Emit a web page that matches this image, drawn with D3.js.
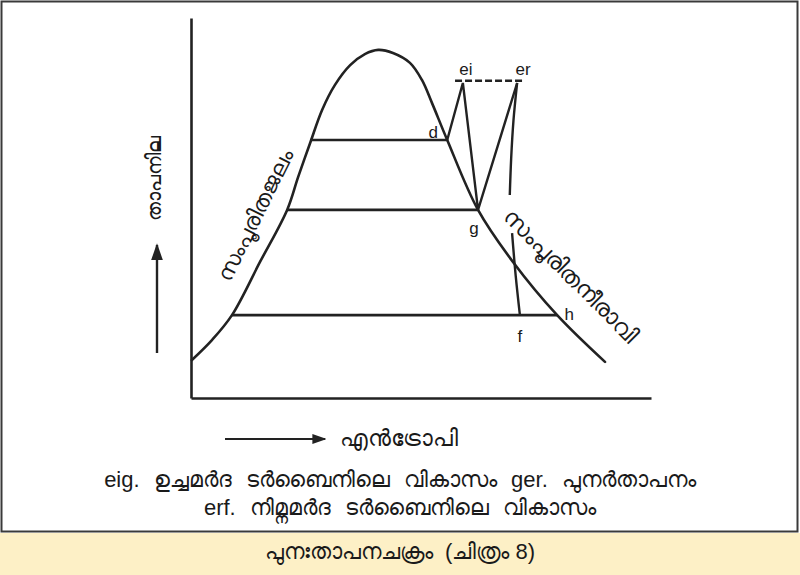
<!DOCTYPE html>
<html><head><meta charset="utf-8">
<script src="https://cdn.jsdelivr.net/npm/d3@7/dist/d3.min.js"></script>
<style>
body{margin:0;background:#fff;}
svg{display:block;}
text{font-family:"Liberation Sans",Arial,"Noto Sans",sans-serif;fill:#1a1a1a;white-space:pre;}
</style></head>
<body>
<svg id="chart" width="800" height="575"></svg>
<script>
// ---- data (entropy s, temperature T) ----
const domeS = [0.02,0.46,0.89,1.50,2.09,2.33,2.59,2.85,3.13,3.46,3.78,4.07,4.39,4.76,5.02,5.24,5.57,6.24,7.00,7.96,9.00];
const domeT = [10.0,15.3,21.8,35.8,49.5,58.2,67.1,75.8,82.4,87.6,90.5,91.6,90.8,88.2,83.7,77.6,67.9,49.5,35.8,21.8,9.5];
const isoLevels = [67.9, 49.5, 21.8];
const isoStartS = [2.59, 2.09, 0.89];
const isoEndS = [5.57, 6.24, 7.96];
const pointNames = ["d","ei","g","er","f","h"];
const pointS = [5.57, 5.91, 6.24, 7.09, 7.15, 7.96];
const pointT = [67.9, 82.9, 49.5, 82.9, 21.8, 21.8];
const cyclePath = ["d","ei","g","er"];
const erfS = [7.09, 7.01, 6.96, 6.93, null, 6.98, 7.06, 7.15];
const erfT = [82.9, 73.0, 63.0, 53.4, null, 43.4, 32.0, 21.8];
const dashS = [5.74, 7.24];
const dashT = 83.5;
const yTitle = "താപനില";
const xTitle = "എൻട്രോപി";
const liquidLabel = "സംപൂരിതജലം";
const vapourLabel = "സംപൂരിതനീരാവി";
const notes = ["eig. ഉച്ചമർദ ടർബൈനിലെ വികാസം ger. പുനർതാപനം", "erf. നിമ്നമർദ ടർബൈനിലെ വികാസം"];
const figCaption = "പുനഃതാപനചക്രം  (ചിത്രം 8)";

const svg = d3.select("#chart");
const W = 800, H = 575;
const ink = "#222";

// background band + frame
svg.append("rect").attr("x",0).attr("y",533).attr("width",W).attr("height",H-533).attr("fill","#fdf0c6");
svg.append("rect").attr("x",1.5).attr("y",1.5).attr("width",796).attr("height",530)
  .attr("fill","#fff").attr("stroke","#3a3a3a").attr("stroke-width",2);

const x = d3.scaleLinear().domain([0,10]).range([191,651]);
const y = d3.scaleLinear().domain([0,100]).range([398,18]);

// axes without ticks
const gx = svg.append("g").attr("transform",`translate(0,${y(0)})`)
  .call(d3.axisBottom(x).tickValues([]).tickSizeOuter(0));
const gy = svg.append("g").attr("transform",`translate(${x(0)},0)`)
  .call(d3.axisLeft(y).tickValues([]).tickSizeOuter(0));
[gx,gy].forEach(g=>g.select(".domain").attr("stroke",ink).attr("stroke-width",2.6));

const line = d3.line().x(d=>x(d[0])).y(d=>y(d[1]));

// saturation dome
const dome = domeS.map((s,i)=>[s,domeT[i]]);
svg.append("path").attr("d", line.curve(d3.curveCatmullRom.alpha(0.5))(dome))
  .attr("fill","none").attr("stroke",ink).attr("stroke-width",2.6).attr("stroke-linecap","round");

// constant-pressure lines in wet region
isoLevels.forEach((t,i)=>{
  svg.append("line").attr("x1",x(isoStartS[i])).attr("x2",x(isoEndS[i]))
    .attr("y1",y(t)).attr("y2",y(t)).attr("stroke",ink).attr("stroke-width",2.6);
});

// dashed reheat line
svg.append("line").attr("x1",x(dashS[0])).attr("x2",x(dashS[1]))
  .attr("y1",y(dashT)).attr("y2",y(dashT)).attr("stroke",ink).attr("stroke-width",2.6)
  .attr("stroke-dasharray","7,3");

// cycle path d-ei-g-er
const P = {};
pointNames.forEach((n,i)=>P[n]=[pointS[i],pointT[i]]);
svg.append("path").attr("d", d3.line().x(d=>x(d[0])).y(d=>y(d[1]))(cyclePath.map(n=>P[n])))
  .attr("fill","none").attr("stroke",ink).attr("stroke-width",2.4).attr("stroke-linejoin","miter");

// er -> f expansion (broken by label)
const erf = erfS.map((s,i)=>[s,erfT[i]]);
svg.append("path").attr("d", d3.line().defined(d=>d[0]!==null).x(d=>x(d[0])).y(d=>y(d[1])).curve(d3.curveMonotoneY)(erf))
  .attr("fill","none").attr("stroke",ink).attr("stroke-width",2.4);

// point labels
const off = {d:[-14,-6], ei:[3,-12], g:[-4,20], er:[6,-12], f:[0,22], h:[12,0]};
pointNames.forEach(n=>{
  svg.append("text").attr("x",x(P[n][0])+off[n][0]).attr("y",y(P[n][1])+off[n][1])
    .attr("text-anchor","middle").attr("dominant-baseline","middle")
    .attr("font-size",17).text(n);
});

// curve labels
svg.append("text").attr("transform","translate(257,216) rotate(-63.4)")
  .attr("text-anchor","middle").attr("dominant-baseline","middle").attr("font-size",22).text(liquidLabel);
svg.append("text").attr("transform","translate(570,277) rotate(45)")
  .attr("text-anchor","middle").attr("dominant-baseline","middle").attr("font-size",23).text(vapourLabel);

// y title + arrow
const defs = svg.append("defs");
defs.append("marker").attr("id","ah").attr("viewBox","0 0 10 10").attr("refX",9).attr("refY",5)
  .attr("markerWidth",7).attr("markerHeight",7).attr("orient","auto")
  .append("path").attr("d","M0,1.5L10,5L0,8.5Z").attr("fill",ink);
svg.append("text").attr("transform","translate(156,178) rotate(-90)")
  .attr("text-anchor","middle").attr("dominant-baseline","middle").attr("font-size",20).text(yTitle);
svg.append("line").attr("x1",157).attr("y1",353).attr("x2",157).attr("y2",245)
  .attr("stroke",ink).attr("stroke-width",2.4).attr("marker-end","url(#ah)");

// x title + arrow
svg.append("line").attr("x1",225).attr("y1",439).attr("x2",325).attr("y2",439)
  .attr("stroke",ink).attr("stroke-width",2).attr("marker-end","url(#ah)");
svg.append("text").attr("x",340).attr("y",440).attr("dominant-baseline","middle")
  .attr("font-size",23).text(xTitle);

// notes
notes.forEach((t,i)=>{
  svg.append("text").attr("x",400).attr("y",481+i*28).attr("text-anchor","middle")
    .attr("dominant-baseline","middle").attr("font-size",22).attr("word-spacing",8).text(t);
});

// caption in band
svg.append("text").attr("x",400).attr("y",553).attr("text-anchor","middle")
  .attr("dominant-baseline","middle").attr("font-size",22).text(figCaption);
</script>
</body></html>
